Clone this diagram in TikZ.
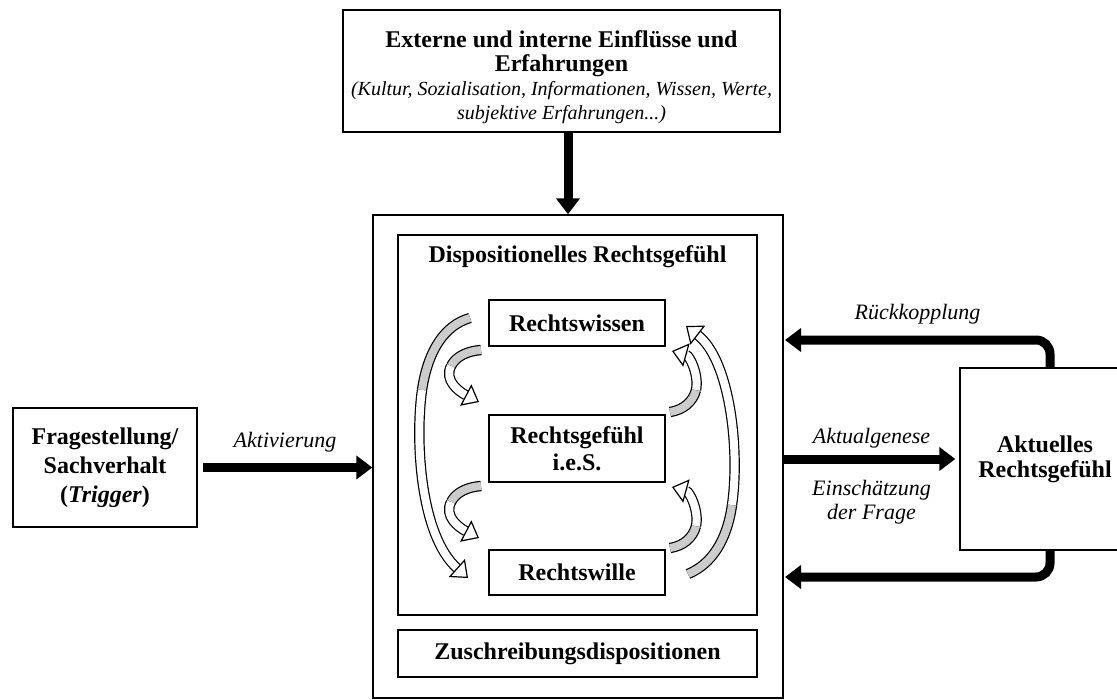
\documentclass[tikz,border=0pt]{standalone}
\usepackage{fontspec}
\setmainfont{Liberation Serif}
\usetikzlibrary{arrows.meta}

\tikzset{
  box/.style={draw, line width=0.7pt, align=center, inner sep=0pt,
    font=\bfseries\fontsize{12}{13.5}\selectfont},
  titel/.style={font=\bfseries\fontsize{12}{13.5}\selectfont},
  fat/.style={line width=4.5pt, -{Triangle[length=8pt,width=11.5pt]}},
  lbl/.style={font=\itshape\fontsize{11}{12}\selectfont},
  ribbon/.style={line width=0.6pt, double=white, double distance=4pt,
    -{Triangle[fill=white,length=7.5pt,width=12pt]}},
  tailpart/.style={line width=0.6pt, double=gray!40, double distance=4pt},
}

\begin{document}
\begin{tikzpicture}[x=0.5pt,y=-0.5pt]
  \clip (0,0) rectangle (1117,700);

  \node[box, minimum width=218.5pt, minimum height=61pt,
    font=\bfseries\fontsize{12}{12}\selectfont] (einfluss) at (561.5,71)
    {\rule{0pt}{14.5pt}Externe und interne Einflüsse und\\Erfahrungen\\
     {\normalfont\itshape\fontsize{10}{12}\selectfont (Kultur, Sozialisation, Informationen, Wissen, Werte,}\\
     {\normalfont\itshape\fontsize{10}{12}\selectfont subjektive Erfahrungen...)}};

  \node[box, minimum width=205pt, minimum height=241.5pt] (rahmen) at (578,456.5) {};
  \node[box, minimum width=179.5pt, minimum height=190pt] (dispo) at (577.5,425) {};
  \node[titel] (dispotitel) at (577.5,257) {Dispositionelles Rechtsgefühl};
  \node[box, minimum width=88pt, minimum height=23pt] (wissen) at (577,323) {Rechtswissen};
  \node[box, minimum width=88pt, minimum height=33.5pt] (gefuehl) at (577,448.5) {Rechtsgefühl\\i.e.S.};
  \node[box, minimum width=88pt, minimum height=22.5pt] (wille) at (577,572.5) {Rechtswille};
  \node[box, minimum width=179.5pt, minimum height=23.5pt] (zuschr) at (577.5,653.5) {Zuschreibungsdispositionen};

  \node[box, minimum width=92pt, minimum height=59.5pt,
    font=\bfseries\fontsize{12}{14.5}\selectfont] (frage) at (105,467.5)
    {Fragestellung/\\Sachverhalt\\(\textit{Trigger})};
  \node[box, minimum width=85pt, minimum height=91pt,
    font=\bfseries\fontsize{12}{12.5}\selectfont] (aktuell) at (1045,459)
    {Aktuelles\\Rechtsgefühl};

  \coordinate (fbtop) at (785,340);
  \coordinate (fbbot) at (785,577);

  % dicke Pfeile
  \draw[fat] ([xshift=3.25pt]einfluss.south) -- ([xshift=3.25pt]einfluss.south |- rahmen.north);
  \draw[fat, shorten <=2.5pt] (frage.east)
    -- node[lbl, above=2pt] {Aktivierung} (rahmen.west |- frage.east);
  \draw[fat, shorten >=2pt] (rahmen.east |- aktuell.west)
    -- node[lbl, above=0pt] {Aktualgenese}
       node[lbl, below=5pt, align=center] {Einschätzung\\der Frage} (aktuell.west);
  \draw[fat, rounded corners=7pt] ([xshift=2.5pt]aktuell.north)
    |- node[lbl, pos=0.75, above=2.5pt] {Rückkopplung} (fbtop);
  \draw[fat, rounded corners=7pt] ([xshift=2.5pt]aktuell.south) |- (fbbot);

  % gebogene Pfeile
  \draw[tailpart] (470,318) .. controls (445,325) and (428,350) .. (422,390);
  \draw[ribbon] (422,390) .. controls (415,440) and (420,535) .. (468,578);
  \draw[tailpart] (688,574) .. controls (712,564) and (727,540) .. (732,505);
  \draw[ribbon] (732,505) .. controls (740,450) and (730,360) .. (686,326);
  \foreach \dy in {0,136}{
    \begin{scope}[shift={(0,\dy)}]
      \draw[tailpart] (481,350) .. controls (468,351) and (456,356) .. (451,366);
      \draw[ribbon] (451,366) .. controls (444,380) and (458,391) .. (479,402);
      \draw[tailpart] (670,412) .. controls (683,410) and (693,402) .. (696,390);
      \draw[ribbon] (696,390) .. controls (699,375) and (690,356) .. (672,351);
    \end{scope}
  }
\end{tikzpicture}
\end{document}
